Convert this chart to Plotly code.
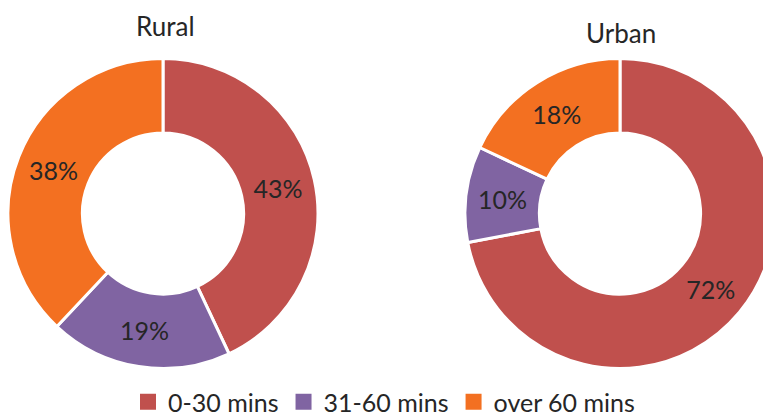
import plotly.graph_objects as go

categories = ["0-30 mins", "31-60 mins", "over 60 mins"]
rural_values = [43, 19, 38]
urban_values = [72, 10, 18]
colors = ["#C0504D", "#8064A2", "#F37021"]
titles = ["Rural", "Urban"]

W, H = 800, 430
FONT = "Lato"
TXT = "#262626"

def px_x(p):
    return p / W

def px_y(p):
    return 1 - p / H

fig = go.Figure()
common = dict(
    labels=categories, hole=0.52, sort=False, direction="clockwise",
    marker=dict(colors=colors, line=dict(color="white", width=3)),
    textinfo="percent", textposition="inside", insidetextorientation="horizontal",
    textfont=dict(family=FONT, size=25, color=TXT),
    hoverinfo="label+percent", showlegend=False,
)
fig.add_trace(go.Pie(values=rural_values, name=titles[0],
                     domain=dict(x=[px_x(8), px_x(318)], y=[px_y(368.5), px_y(58.5)]),
                     **common))
fig.add_trace(go.Pie(values=urban_values, name=titles[1],
                     domain=dict(x=[px_x(465), px_x(775)], y=[px_y(368.5), px_y(58.5)]),
                     **common))

# legend entries (square swatches) built from the same categories/colours
for cat, col in zip(categories, colors):
    fig.add_trace(go.Scatter(x=[None], y=[None], mode="markers", name=cat,
                             marker=dict(symbol="square", size=16, color=col),
                             showlegend=True, hoverinfo="skip"))

fig.add_annotation(text=titles[0], x=px_x(165), y=px_y(26), xref="paper", yref="paper",
                   showarrow=False, font=dict(family=FONT, size=26, color=TXT),
                   xanchor="center", yanchor="middle")
fig.add_annotation(text=titles[1], x=px_x(621), y=px_y(33), xref="paper", yref="paper",
                   showarrow=False, font=dict(family=FONT, size=26, color=TXT),
                   xanchor="center", yanchor="middle")

fig.update_layout(
    width=W, height=H,
    margin=dict(l=0, r=0, t=0, b=0),
    paper_bgcolor="white", plot_bgcolor="rgba(0,0,0,0)",
    font=dict(family=FONT, color=TXT),
    xaxis=dict(visible=False), yaxis=dict(visible=False),
    legend=dict(orientation="h", x=px_x(128), xanchor="left", y=px_y(379), yanchor="top",
                font=dict(family=FONT, size=25, color=TXT), traceorder="normal",
                itemsizing="trace", bgcolor="rgba(0,0,0,0)"),
)

fig.write_html("out.html", config={"displayModeBar": False},
               post_script="document.documentElement.style.overflow='hidden';document.body.style.overflow='hidden';document.body.style.margin='0';")
